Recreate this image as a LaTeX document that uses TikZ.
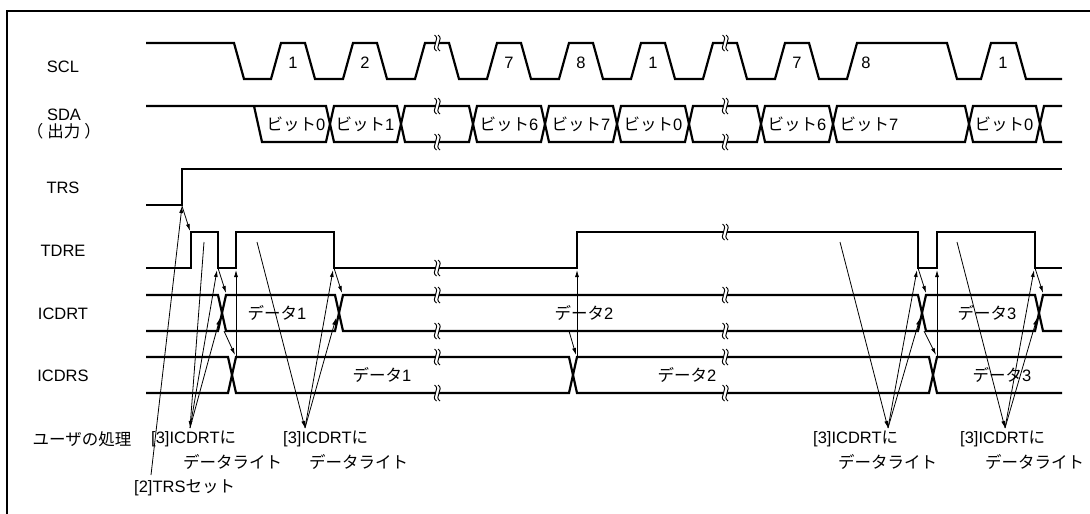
\documentclass[tikz,border=0pt]{standalone}
\usepackage{fontspec}
\setmainfont{Liberation Sans}
\newfontfamily\jpfont{Noto Sans CJK JP}
\newcommand{\jp}[1]{{\jpfont #1}}
\usetikzlibrary{arrows.meta}

\tikzset{
  sig/.style={line width=2.2pt,line join=miter},
  ptr/.style={line width=0.8pt,-{Latex[length=7pt,width=4pt]}},
  lbl/.style={inner sep=0pt},
  brk/.pic={
    \fill[white] (-2.5,-8) .. controls (4,-4) and (-7,4) .. (-0.5,8)
      -- (3,8) .. controls (-3.5,4) and (7.5,-4) .. (1,-8) -- cycle;
    \draw[line width=1pt] (-2.5,-8) .. controls (4,-4) and (-7,4) .. (-0.5,8);
    \draw[line width=1pt] (1,-8) .. controls (7.5,-4) and (-3.5,4) .. (3,8);
  }
}

\begin{document}
\begin{tikzpicture}[x=1pt,y=-1pt,font=\fontsize{16.5}{18}\selectfont]
  \useasboundingbox (0,0) rectangle (1090,514);
  \draw[line width=2pt] (1090,11) -- (7,11) -- (7,514);

  % signal names
  \node[lbl] (lscl) at (63,67) {SCL};
  \node[lbl,align=center,font=\fontsize{16.5}{17.5}\selectfont] (lsda) at (64,124) {SDA\\\jp{（\hspace{4pt}出力\hspace{4pt}）}};
  \node[lbl] (ltrs) at (63,188) {TRS};
  \node[lbl] (ltdre) at (63,251) {TDRE};
  \node[lbl] (licdrt) at (63,314) {ICDRT};
  \node[lbl] (licdrs) at (63,376) {ICDRS};
  \node[lbl] (luser) at (82,439) {\jp{ユーザの処理}};

  % SCL
  \draw[sig] (146,43) -- (234,43) -- (244,79)
    \foreach \r in {271,343,...,775} { -- (\r,79) -- (\r+10,43) -- (\r+34,43) -- (\r+44,79) }
    -- (847,79) -- (857,43) -- (947,43) -- (957,79) -- (981,79) -- (991,43)
    -- (1016,43) -- (1026,79) -- (1062,79);
  \foreach \x/\t in {293/1,365/2,509/7,581/8,653/1,797/7,866/8,1003/1}
    \node[lbl] (c\x) at (\x,63) {\t};

  % SDA
  \draw[sig] (146,106) -- (326,106) -- (330,124) -- (326,142) -- (262,142) -- (254,106);
  \foreach \a/\b in {330/401,401/473,473/545,545/617,617/689,689/761,761/833,833/969,969/1040}
    \draw[sig] (\a,124) -- (\a+4,106) -- (\b-4,106) -- (\b,124) -- (\b-4,142) -- (\a+4,142) -- cycle;
  \draw[sig] (1062,106) -- (1044,106) -- (1040,124) -- (1044,142) -- (1062,142);
  \foreach \x/\t in {296/0,365/1,509/6,581/7,653/0,797/6,869/7,1004/0}
    \node[lbl] (b\x) at (\x,124) {\jp{ビット}\t};

  % TRS, TDRE
  \draw[sig] (146,205) -- (182,205) -- (182,169) -- (1062,169);
  \draw[sig] (146,268) -- (191,268) -- (191,232) -- (218,232) -- (218,268) -- (236,268)
    -- (236,232) -- (334,232) -- (334,268) -- (577,268) -- (577,232) -- (918,232)
    -- (918,268) -- (937,268) -- (937,232) -- (1035,232) -- (1035,268) -- (1062,268);

  % ICDRT
  \draw[sig] (146,295) -- (218,295) -- (222,313) -- (218,331) -- (146,331);
  \foreach \a/\b in {222/339,339/922,922/1039}
    \draw[sig] (\a,313) -- (\a+4,295) -- (\b-4,295) -- (\b,313) -- (\b-4,331) -- (\a+4,331) -- cycle;
  \draw[sig] (1062,295) -- (1043,295) -- (1039,313) -- (1043,331) -- (1062,331);

  % ICDRS
  \draw[sig] (146,357) -- (228,357) -- (232,375) -- (228,393) -- (146,393);
  \foreach \a/\b in {232/573,573/933}
    \draw[sig] (\a,375) -- (\a+4,357) -- (\b-4,357) -- (\b,375) -- (\b-4,393) -- (\a+4,393) -- cycle;
  \draw[sig] (1062,357) -- (937,357) -- (933,375) -- (937,393) -- (1062,393);

  % breaks
  \foreach \x in {437,725} {
    \foreach \y in {43,106,142,295,331,357,393}
      \pic at (\x,\y) {brk};
  }
  \pic at (437,268) {brk};
  \pic at (725,232) {brk};

  % data
  \node[lbl] (t1) at (277,313) {\jp{データ}1};
  \node[lbl] (t2) at (584,313) {\jp{データ}2};
  \node[lbl] (t3) at (987,313) {\jp{データ}3};
  \node[lbl] (s1) at (382,375) {\jp{データ}1};
  \node[lbl] (s2) at (687,375) {\jp{データ}2};
  \node[lbl] (s3) at (1002,375) {\jp{データ}3};

  % user notes
  \node[lbl,anchor=west] (w1a) at (151,439) {[3]ICDRT\jp{に}};
  \node[lbl,anchor=west] (w1b) at (183,462) {\jp{データライト}};
  \node[lbl,anchor=west] (w2a) at (283,439) {[3]ICDRT\jp{に}};
  \node[lbl,anchor=west] (w2b) at (309,462) {\jp{データライト}};
  \node[lbl,anchor=west] (w3a) at (813,439) {[3]ICDRT\jp{に}};
  \node[lbl,anchor=west] (w3b) at (838,462) {\jp{データライト}};
  \node[lbl,anchor=west] (w4a) at (960,439) {[3]ICDRT\jp{に}};
  \node[lbl,anchor=west] (w4b) at (985,462) {\jp{データライト}};
  \node[lbl,anchor=west] (wtrs) at (134,488) {[2]TRS\jp{セット}};

  % [2] TRS set
  \coordinate (trsl) at (151,475);
  \coordinate (trse) at (182,206);
  \coordinate (tdrea) at (190,231);
  \draw[ptr] (trsl) -- (trse);
  \draw[ptr] (trse) -- (tdrea);

  % [3] ICDRT write
  \foreach \s/\p/\f/\n in {204/190/218/b,257/305/334/c,840/888/918/d,957/1005/1035/e} {
    \coordinate (src\n) at (\s,242);
    \coordinate (tip\n) at (\p,428);
    \coordinate (fal\n) at (\f-1,270);
    \coordinate (xrt\n) at (\f+2,318);
    \coordinate (cor\n) at (\f,268);
    \coordinate (xtp\n) at (\f+8,293);
    \draw[ptr] (src\n) -- (tip\n);
    \draw[ptr] (tip\n) -- (fal\n);
    \draw[ptr] (tip\n) -- (xrt\n);
    \draw[ptr] (cor\n) -- (xtp\n);
  }

  % transfer ICDRT -> ICDRS, TDRE set
  \foreach \a/\r/\n in {224/236/b,569/577/m,924/937/d} {
    \coordinate (icl\n) at (\a,331);
    \coordinate (icx\n) at (\r-1,355);
    \coordinate (ics\n) at (\r,357);
    \coordinate (ris\n) at (\r,270);
    \draw[ptr] (icl\n) -- (icx\n);
    \draw[ptr] (ics\n) -- (ris\n);
  }
\end{tikzpicture}
\end{document}
